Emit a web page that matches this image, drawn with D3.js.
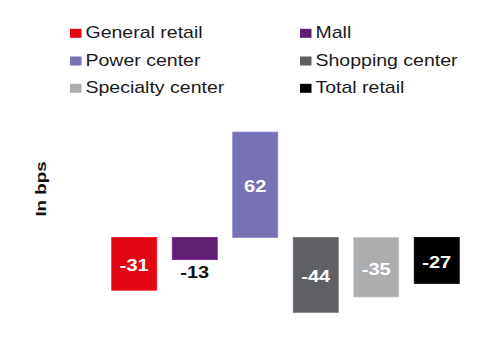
<!DOCTYPE html>
<html>
<head>
<meta charset="utf-8">
<script src="https://cdn.jsdelivr.net/npm/d3@7"></script>
<style>
  html, body { margin: 0; padding: 0; background: #fff; }
  svg { display: block; font-family: "Liberation Sans", Arial, sans-serif; }
</style>
</head>
<body>
<svg id="chart" width="500" height="350"></svg>
<script>
const categories = ["General retail", "Mall", "Power center", "Shopping center", "Specialty center", "Total retail"];
const values = [-31, -13, 62, -44, -35, -27];
const colors = ["#e30613", "#611f73", "#7771b5", "#5e6064", "#acadaf", "#000000"];
const yLabel = "In bps";

const svg = d3.select("#chart");

const x = d3.scaleBand().domain(categories).range([104, 467]).paddingInner(0.256).paddingOuter(0.128);
const y = d3.scaleLinear().domain([-50, 70]).range([322.5, 118.5]);

// bars
svg.append("g").selectAll("rect").data(categories).join("rect")
  .attr("x", d => x(d))
  .attr("width", x.bandwidth())
  .attr("y", (d, i) => Math.min(y(values[i]), y(0)))
  .attr("height", (d, i) => Math.abs(y(values[i]) - y(0)))
  .attr("fill", (d, i) => colors[i])
  .attr("stroke", (d, i) => d3.color(colors[i]).brighter(0.4))
  .attr("stroke-width", 0.8);

// value labels
svg.append("g").selectAll("text").data(categories).join("text")
  .attr("transform", (d, i) => {
    const h = Math.abs(y(values[i]) - y(0));
    const cx = x(d) + x.bandwidth() / 2;
    let cy;
    if (h < 30) cy = Math.max(y(values[i]), y(0)) + 13;
    else cy = (y(values[i]) + y(0)) / 2 + 2;
    return `translate(${cx},${cy}) scale(1.25,1)`;
  })
  .attr("text-anchor", "middle")
  .attr("dominant-baseline", "central")
  .attr("font-weight", "bold")
  .attr("font-size", 16)
  .attr("fill", (d, i) => Math.abs(y(values[i]) - y(0)) < 30 ? "#111" : "#fff")
  .text((d, i) => values[i]);

// y axis label
svg.append("text")
  .attr("transform", "translate(41.5,189) rotate(-90) scale(1.25,1)")
  .attr("text-anchor", "middle")
  .attr("dominant-baseline", "central")
  .attr("font-weight", "bold")
  .attr("font-size", 15)
  .attr("fill", "#111")
  .text(yLabel);

// legend
const legX = [70, 300];
const legY = [38.3, 66, 93.3];
const leg = svg.append("g").selectAll("g").data(categories).join("g")
  .attr("transform", (d, i) => `translate(${legX[i % 2]},${legY[Math.floor(i / 2)]})`);
leg.append("rect")
  .attr("x", 0).attr("y", -9.5)
  .attr("width", 11.5).attr("height", 9)
  .attr("fill", (d, i) => colors[i]);
leg.append("text")
  .attr("transform", "translate(15.5,0) scale(1.22,1)")
  .attr("font-size", 16)
  .attr("fill", "#1a1a1a")
  .text(d => d);
</script>
</body>
</html>
